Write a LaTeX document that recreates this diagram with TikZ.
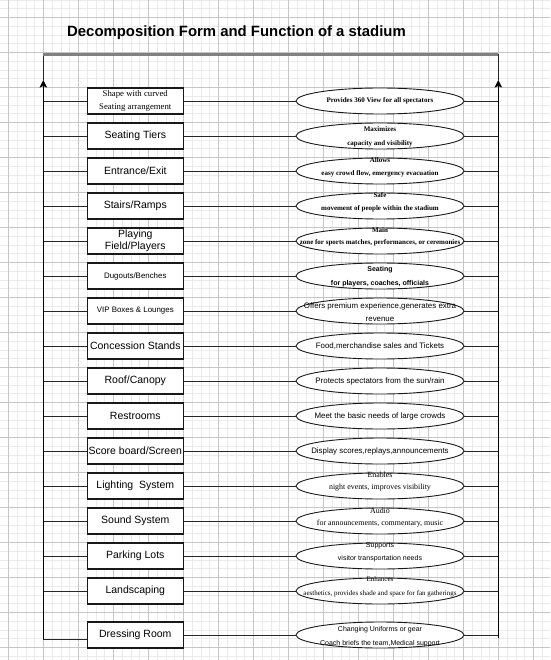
\documentclass[tikz,border=0pt]{standalone}
\usepackage{fontspec}
\setmainfont{Liberation Sans}
\newfontfamily\timesfont{Liberation Serif}
\usetikzlibrary{arrows.meta,shapes.geometric}

\tikzset{
    minorline/.style={draw=gray!16, line width=0.5pt},
    majorline/.style={draw=gray!45, line width=0.7pt},
    part/.style={draw=black!90, line width=1.1pt, fill=white, minimum width=95.5pt, minimum height=26pt, inner sep=1pt, align=center},
    role/.style={draw=black!90, line width=0.9pt, ellipse, fill=white, minimum width=168pt, minimum height=26pt, inner sep=0pt},
    roletext/.style={inner sep=0pt, align=center},
    link/.style={draw=black!85, line width=0.9pt},
    uparrow/.style={draw=black, line width=0.9pt, -{Stealth[length=7.5pt, width=7.5pt, inset=1.5pt, fill=black]}},
    big/.style={font=\fontsize{10.5}{12.5}\selectfont},
    small/.style={font=\fontsize{7.9}{10}\selectfont},
    serif/.style={font=\timesfont\fontsize{8.75}{12.5}\selectfont},
    tb/.style 2 args={font=\timesfont\bfseries\fontsize{#1}{#2}\selectfont},
    tr/.style 2 args={font=\timesfont\fontsize{#1}{#2}\selectfont},
    sb/.style 2 args={font=\bfseries\fontsize{#1}{#2}\selectfont},
    sr/.style 2 args={font=\fontsize{#1}{#2}\selectfont}
}

\begin{document}
\begin{tikzpicture}[x=1pt, y=-1pt]
    % paper with grid
    \fill[white] (0,0) rectangle (550,660);
    \useasboundingbox (0,0) rectangle (550,660);
    \foreach \k in {0,...,63} {
        \draw[minorline] ({-0.45+8.75*\k},0) -- ++(0,660);
    }
    \foreach \k in {0,...,75} {
        \draw[minorline] (0,{-0.2+8.75*\k}) -- ++(550,0);
    }
    \foreach \k in {0,...,15} {
        \draw[majorline] ({8.3+35*\k},0) -- ++(0,660);
    }
    \foreach \k in {0,...,18} {
        \draw[majorline] (0,{17.3+35*\k}) -- ++(550,0);
    }

    % title
    \node[anchor=base west, inner sep=0pt, font=\bfseries\fontsize{14.9}{16}\selectfont] (title) at (67,37) {Decomposition Form and Function of a stadium};

    % frame corners
    \coordinate (ltop) at (43.3,54.5);
    \coordinate (rtop) at (498.3,54.5);
    \coordinate (larrow) at (43.3,80);
    \coordinate (rarrow) at (498.3,80);
    \coordinate (lbot) at (43.3,639);
    \coordinate (rbot) at (498.3,638);

    % form (parts of the stadium)
    \node[part, serif] (p1) at (135.3,101) {Shape with curved\\Seating arrangement};
    \node[part, big] (p2) at (135.3,136) {Seating Tiers};
    \node[part, big] (p3) at (135.3,171) {Entrance/Exit};
    \node[part, big] (p4) at (135.3,206) {Stairs/Ramps};
    \node[part, big] (p5) at (135.3,241) {Playing\\Field/Players};
    \node[part, small] (p6) at (135.3,276) {Dugouts/Benches};
    \node[part, small] (p7) at (135.3,311) {VIP Boxes \& Lounges};
    \node[part, big] (p8) at (135.3,346) {Concession Stands};
    \node[part, big] (p9) at (135.3,381) {Roof/Canopy};
    \node[part, big] (p10) at (135.3,416) {Restrooms};
    \node[part, big] (p11) at (135.3,451) {Score board/Screen};
    \node[part, big] (p12) at (135.3,486) {Lighting\ \ System};
    \node[part, big] (p13) at (135.3,521) {Sound System};
    \node[part, big] (p14) at (135.3,556) {Parking Lots};
    \node[part, big] (p15) at (135.3,591) {Landscaping};
    \node[part, big] (p16) at (135.3,635) {Dressing Room};

    % function ellipses
    \foreach \n/\y in {1/101, 2/136, 3/171, 4/206, 5/241, 6/276, 7/311, 8/346, 9/381, 10/416, 11/451, 12/486, 13/521, 14/556, 15/591, 16/635} {
        \node[role] (f\n) at (380,\y) {};
    }
    \node[roletext, tb={7}{13}] (t1) at (f1) {Provides 360 View for all spectators};
    \node[roletext, tb={7}{14}, yshift=-1pt] (t2) at (f2) {Maximizes\\capacity and visibility};
    \node[roletext, tb={7}{13}, yshift=3.5pt] (t3) at (f3) {Allows\\easy crowd flow, emergency evacuation};
    \node[roletext, tb={7}{13}, yshift=3.5pt] (t4) at (f4) {Safe\\movement of people within the stadium};
    \node[roletext, tb={7}{12}, yshift=4pt] (t5) at (f5) {Main\\zone for sports matches, performances, or ceremonies};
    \node[roletext, sb={7}{14}, yshift=-1pt] (t6) at (f6) {Seating\\for players, coaches, officials};
    \node[roletext, sr={7.9}{12.5}, yshift=-1pt] (t7) at (f7) {Offers premium experience,generates extra\\revenue};
    \node[roletext, sr={7.9}{10}] (t8) at (f8) {Food,merchandise sales and Tickets};
    \node[roletext, sr={7.9}{10}] (t9) at (f9) {Protects spectators from the sun/rain};
    \node[roletext, sr={7.9}{10}] (t10) at (f10) {Meet the basic needs of large crowds};
    \node[roletext, sr={7.9}{10}] (t11) at (f11) {Display scores,replays,announcements};
    \node[roletext, tr={7.9}{12}, yshift=4pt] (t12) at (f12) {Enables\\night events, improves visibility};
    \node[roletext, tr={7.9}{11.5}, yshift=3.5pt] (t13) at (f13) {Audio\\for announcements, commentary, music};
    \node[roletext, sr={7}{13}, yshift=3.5pt] (t14) at (f14) {Supports\\visitor transportation needs};
    \node[roletext, tr={7}{14}, yshift=4.5pt] (t15) at (f15) {Enhances\\aesthetics, provides shade and space for fan gatherings};
    \node[roletext, sr={7}{14}, yshift=-1.5pt] (t16) at (f16) {Changing Uniforms or gear\\Coach briefs the team,Medical support};

    % connectors
    \foreach \n in {1,...,15} {
        \draw[link] (p\n.west -| ltop) -- (p\n.west);
    }
    \draw[link] (lbot) -- (p16.west |- lbot);
    \foreach \n in {1,...,16} {
        \draw[link] (p\n.east) -- (f\n.west);
        \draw[link] (f\n.east) -- (f\n.east -| rtop);
    }

    % frame
    \draw[uparrow] (lbot) -- (larrow);
    \draw[link] (larrow) -- (ltop);
    \draw[uparrow] (rbot) -- (rarrow);
    \draw[link] (rarrow) -- (rtop);
    \draw[gray, line width=2.2pt] (ltop) -- (rtop);
\end{tikzpicture}
\end{document}
